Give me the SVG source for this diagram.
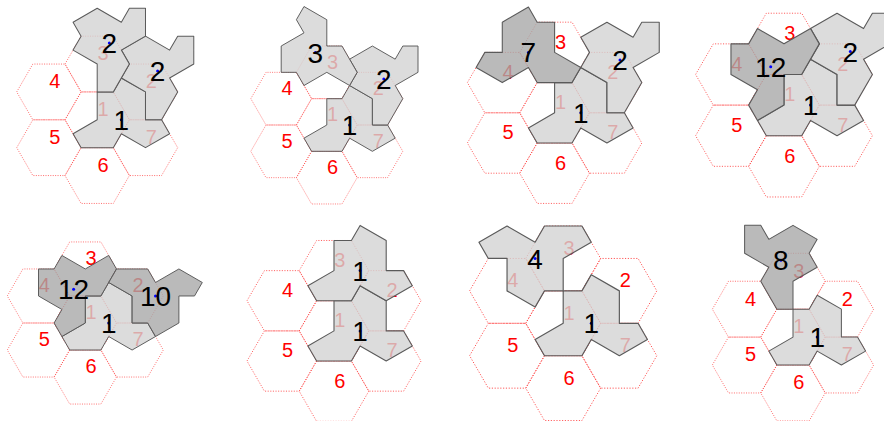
<svg xmlns="http://www.w3.org/2000/svg" width="884" height="421" viewBox="0 0 884 421">
<style>
.hx{fill:none;stroke:#ff3030;stroke-width:0.7;stroke-dasharray:1,1.4}
.lbl{font-family:"Liberation Sans",Arial,sans-serif;font-size:20px;fill:#ff0000}
.tl{fill:#d3d3d3;fill-opacity:0.8;stroke:#5a5a5a;stroke-width:1;stroke-linejoin:round}
.td{fill:#a9a9a9;fill-opacity:0.8;stroke:#5a5a5a;stroke-width:1;stroke-linejoin:round}
.num{font-family:"Liberation Sans",Arial,sans-serif;font-size:28px;fill:#000;text-anchor:middle}
.dot{fill:#0000ff}
</style>
<defs>
<polygon id="hex" class="hx" points="32,0 16,27.71 -16,27.71 -32,0 -16,-27.71 16,-27.71"/>
<g id="hexes">
<use href="#hex" x="0" y="0"/>
<use href="#hex" x="48" y="-27.71"/>
<use href="#hex" x="0" y="-55.43"/>
<use href="#hex" x="-48" y="-27.71"/>
<use href="#hex" x="-48" y="27.71"/>
<use href="#hex" x="0" y="55.43"/>
<use href="#hex" x="48" y="27.71"/>
</g>
<polygon id="t1" class="tl" points="0,-27.71 0,0 -24,13.86 -16,27.71 16,27.71 24,13.86 48,27.71 72,13.86 64,0 48,0 48,-27.71 24,-41.57 16,-27.71"/>
<polygon id="tB" class="tl" points="24,-41.57 48,-27.71 48,0 64,0 80,-27.71 72,-41.57 96,-55.43 96,-83.14 80,-83.14 72,-69.28 48,-83.14 24,-69.28 32,-55.43"/>
<polygon id="t12" class="td" points="-48,-55.43 -32,-55.43 -24,-69.28 0,-55.43 24,-69.28 32,-55.43 16,-27.71 0,-27.71 0,0 -24,13.86 -32,0 -24,-13.86 -48,-27.71"/>
</defs>

<g id="panel1">
<g transform="translate(97.2,119.8) scale(1.006)"><use href="#hexes"/></g>
<g class="lbl">
<text x="97.5" y="116.1">1</text><text x="145.8" y="88.2">2</text><text x="97.5" y="60.3">3</text><text x="49.2" y="88.2">4</text><text x="49.2" y="144.0">5</text><text x="97.5" y="171.9">6</text><text x="145.8" y="144.0">7</text>
</g>
<g id="p1-tiles" transform="translate(97.2,119.8) scale(1.006)">
<use href="#t1"/>
<use href="#tB"/>
<polygon class="tl" points="0,-110.85 24,-96.99 32,-110.85 48,-110.85 48,-83.14 24,-69.28 32,-55.43 16,-27.71 0,-27.71 0,-55.43 -24,-69.28 -16,-83.14 -24,-96.99"/>
</g>
<circle class="dot" cx="121.3" cy="119.8" r="1.5"/><circle class="dot" cx="157.6" cy="71.0" r="1.5"/><circle class="dot" cx="109.3" cy="43.1" r="1.5"/>
<text class="num" x="121.3" y="129.8">1</text><text class="num" x="157.6" y="81.0">2</text><text class="num" x="109.3" y="53.1">2</text>
</g>

<g id="panel2">
<g transform="translate(326.8,125) scale(0.95)"><use href="#hexes"/></g>
<g class="lbl">
<text x="327.1" y="121.3">1</text><text x="372.7" y="95.0">2</text><text x="327.1" y="68.6">3</text><text x="281.5" y="95.0">4</text><text x="281.5" y="147.6">5</text><text x="327.1" y="174.0">6</text><text x="372.7" y="147.6">7</text>
</g>
<g id="p2-tiles" transform="translate(326.8,125) scale(0.95)">
<use href="#t1"/>
<use href="#tB"/>
<polygon class="tl" points="-24,-124.71 0,-110.85 0,-83.14 16,-83.14 32,-55.43 24,-41.57 0,-55.43 -24,-41.57 -32,-55.43 -48,-55.43 -48,-83.14 -24,-96.99 -32,-110.85"/>
</g>
<circle class="dot" cx="349.6" cy="125.0" r="1.5"/><circle class="dot" cx="383.8" cy="78.9" r="1.5"/><circle class="dot" cx="315.4" cy="52.6" r="1.5"/>
<text class="num" x="349.6" y="135.0">1</text><text class="num" x="383.8" y="88.9">2</text><text class="num" x="315.4" y="62.6">3</text>
</g>

<g id="panel3">
<g transform="translate(554.6,112.8) scale(1.09)"><use href="#hexes"/></g>
<g class="lbl">
<text x="554.9" y="109.1">1</text><text x="607.2" y="78.9">2</text><text x="554.9" y="48.7">3</text><text x="502.6" y="78.9">4</text><text x="502.6" y="139.3">5</text><text x="554.9" y="169.5">6</text><text x="607.2" y="139.3">7</text>
</g>
<g id="p3-tiles" transform="translate(554.6,112.8) scale(1.09)">
<use href="#t1"/>
<use href="#tB"/>
<polygon class="td" points="-48,-83.14 -24,-96.99 -16,-83.14 0,-83.14 0,-55.43 24,-41.57 16,-27.71 -16,-27.71 -24,-41.57 -48,-27.71 -72,-41.57 -64,-55.43 -48,-55.43"/>
</g>
<circle class="dot" cx="580.8" cy="112.8" r="1.5"/><circle class="dot" cx="620.0" cy="59.9" r="1.5"/><circle class="dot" cx="528.4" cy="52.4" r="1.5"/>
<text class="num" x="580.8" y="122.8">1</text><text class="num" x="620.0" y="69.9">2</text><text class="num" x="528.4" y="62.4">7</text>
</g>

<g id="panel4">
<g transform="translate(784,105.1) scale(1.105)"><use href="#hexes"/></g>
<g class="lbl">
<text x="784.3" y="101.4">1</text><text x="837.3" y="70.8">2</text><text x="784.3" y="40.2">3</text><text x="731.3" y="70.8">4</text><text x="731.3" y="132.0">5</text><text x="784.3" y="162.7">6</text><text x="837.3" y="132.0">7</text>
</g>
<g id="p4-tiles" transform="translate(784,105.1) scale(1.105)">
<use href="#t1"/>
<use href="#tB"/>
<use href="#t12"/>
</g>
<circle class="dot" cx="810.5" cy="105.1" r="1.5"/><circle class="dot" cx="850.3" cy="51.5" r="1.5"/><circle class="dot" cx="770.7" cy="66.8" r="1.5"/>
<text class="num" x="810.5" y="115.1">1</text><text class="num" x="850.3" y="61.5">2</text><text class="num" x="770.7" y="76.8">12</text>
</g>

<g id="panel5">
<g transform="translate(85.3,323) scale(0.975)"><use href="#hexes"/></g>
<g class="lbl">
<text x="85.6" y="319.3">1</text><text x="132.4" y="292.3">2</text><text x="85.6" y="265.3">3</text><text x="38.8" y="292.3">4</text><text x="38.8" y="346.3">5</text><text x="85.6" y="373.3">6</text><text x="132.4" y="346.3">7</text>
</g>
<g id="p5-tiles" transform="translate(85.3,323) scale(0.975)">
<use href="#t1"/>
<use href="#t12"/>
<polygon class="td" points="32,-55.43 64,-55.43 72,-41.57 96,-55.43 120,-41.57 112,-27.71 96,-27.71 96,0 72,13.86 64,0 48,0 48,-27.71 24,-41.57"/>
</g>
<circle class="dot" cx="108.7" cy="323.0" r="1.5"/><circle class="dot" cx="73.6" cy="289.2" r="1.5"/><circle class="dot" cx="155.5" cy="296.0" r="1.5"/>
<text class="num" x="108.7" y="333.0">1</text><text class="num" x="73.6" y="299.2">12</text><text class="num" x="155.5" y="306.0">10</text>
</g>

<g id="panel6">
<g transform="translate(334,330.9) scale(1.0875)"><use href="#hexes"/></g>
<g class="lbl">
<text x="334.3" y="327.2">1</text><text x="386.5" y="297.1">2</text><text x="334.3" y="266.9">3</text><text x="282.1" y="297.1">4</text><text x="282.1" y="357.3">5</text><text x="334.3" y="387.5">6</text><text x="386.5" y="357.3">7</text>
</g>
<g id="p6-tiles" transform="translate(334,330.9) scale(1.0875)">
<use href="#t1"/>
<use href="#t1" y="-55.43"/>
</g>
<circle class="dot" cx="360.1" cy="330.9" r="1.5"/><circle class="dot" cx="360.1" cy="270.6" r="1.5"/>
<text class="num" x="360.1" y="340.9">1</text><text class="num" x="360.1" y="280.6">1</text>
</g>

<g id="panel7">
<g transform="translate(563.2,323.3) scale(1.17)"><use href="#hexes"/></g>
<g class="lbl">
<text x="563.5" y="319.6">1</text><text x="619.7" y="287.2">2</text><text x="563.5" y="254.8">3</text><text x="507.3" y="287.2">4</text><text x="507.3" y="352.0">5</text><text x="563.5" y="384.5">6</text><text x="619.7" y="352.0">7</text>
</g>
<g id="p7-tiles" transform="translate(563.2,323.3) scale(1.17)">
<use href="#t1"/>
<polygon class="tl" points="-72,-69.28 -48,-83.14 -24,-69.28 -16,-83.14 16,-83.14 24,-69.28 0,-55.43 0,-27.71 -16,-27.71 -24,-13.86 -48,-27.71 -48,-55.43 -64,-55.43"/>
</g>
<circle class="dot" cx="591.3" cy="323.3" r="1.5"/><circle class="dot" cx="535.1" cy="258.5" r="1.5"/>
<text class="num" x="591.3" y="333.3">1</text><text class="num" x="535.1" y="268.5">4</text>
</g>

<g id="panel8">
<g transform="translate(793,337.1) scale(1.008)"><use href="#hexes"/></g>
<g class="lbl">
<text x="793.3" y="333.4">1</text><text x="841.7" y="305.5">2</text><text x="793.3" y="277.5">3</text><text x="744.9" y="305.5">4</text><text x="744.9" y="361.3">5</text><text x="793.3" y="389.3">6</text><text x="841.7" y="361.3">7</text>
</g>
<g id="p8-tiles" transform="translate(793,337.1) scale(1.008)">
<use href="#t1"/>
<polygon class="td" points="-48,-110.85 -32,-110.85 -24,-96.99 0,-110.85 24,-96.99 16,-83.14 24,-69.28 0,-55.43 0,-27.71 -16,-27.71 -32,-55.43 -24,-69.28 -48,-83.14"/>
</g>
<circle class="dot" cx="817.2" cy="337.1" r="1.5"/><circle class="dot" cx="780.9" cy="260.3" r="1.5"/>
<text class="num" x="817.2" y="347.1">1</text><text class="num" x="780.9" y="270.3">8</text>
</g>
</svg>
